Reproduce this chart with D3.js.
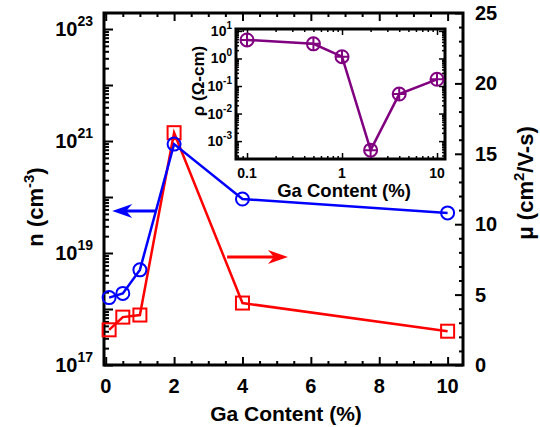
<!DOCTYPE html>
<html>
<head>
<meta charset="utf-8">
<script src="https://cdn.jsdelivr.net/npm/d3@7"></script>
<style>
  body { margin: 0; background: #fff; }
  svg text { font-family: "Liberation Sans", Arial, sans-serif; font-weight: bold; fill: #000; }
</style>
</head>
<body>
<svg id="chart" width="540" height="427"></svg>
<script>
// Ga content (%) for every sample
var gaContent = [0.1, 0.5, 1, 2, 4, 10];
// carrier concentration n (cm^-3), left log axis
var carrierConc = [1.6e18, 1.9e18, 5.0e18, 8.8e20, 9.2e19, 5.2e19];
// mobility (cm^2/V-s), right linear axis
var mobility = [2.5, 3.4, 3.55, 16.5, 4.4, 2.4];
// resistivity (ohm-cm), inset
var resistivity = [4.7, 3.4, 1.16, 4.7e-4, 0.051, 0.175];

var xTicks = [0, 2, 4, 6, 8, 10];
var nTickExps = [17, 19, 21, 23];
var muTicks = [0, 5, 10, 15, 20, 25];
var insetXTicks = [0.1, 1, 10];
var insetXLabels = ["0.1", "1", "10"];
var insetYExps = [1, 0, -1, -2, -3];

var svg = d3.select("#chart");

// main frame
var L = 104, R = 463, T = 13, B = 365;
var x = d3.scaleLinear().domain([-0.05, 10.45]).range([L, R]);
var yN = d3.scaleLog().domain([1e17, Math.pow(10, 23.286)]).range([B, T]);
var yMu = d3.scaleLinear().domain([0, 25]).range([B, T]);

function styleAxis(g) {
    g.select(".domain").remove();
    g.selectAll(".tick line").attr("stroke", "#000").attr("stroke-width", 2);
    g.selectAll(".tick text").remove();
}

// minor ticks every 0.5 on x
var xMinor = d3.range(0, 10.5, 0.5).filter(function(v) { return v % 2 !== 0; });
svg.append("g").attr("transform", "translate(0," + B + ")")
    .call(d3.axisBottom(x).tickValues(xTicks).tickSize(-8)).call(styleAxis);
svg.append("g").attr("transform", "translate(0," + B + ")")
    .call(d3.axisBottom(x).tickValues(xMinor).tickSize(-4)).call(styleAxis);
svg.append("g").attr("transform", "translate(0," + T + ")")
    .call(d3.axisTop(x).tickValues(xTicks).tickSize(-8)).call(styleAxis);
svg.append("g").attr("transform", "translate(0," + T + ")")
    .call(d3.axisTop(x).tickValues(xMinor).tickSize(-4)).call(styleAxis);

// left log axis
var nMajor = d3.range(17, 24).map(function(e) { return Math.pow(10, e); });
var nMinor = [];
d3.range(17, 24).forEach(function(e) {
    for (var k = 2; k <= 9; k++) {
        var v = k * Math.pow(10, e);
        if (v < yN.domain()[1]) nMinor.push(v);
    }
});
svg.append("g").attr("transform", "translate(" + L + ",0)")
    .call(d3.axisLeft(yN).tickValues(nMajor).tickSize(-9)).call(styleAxis);
svg.append("g").attr("transform", "translate(" + L + ",0)")
    .call(d3.axisLeft(yN).tickValues(nMinor).tickSize(-5)).call(styleAxis);

// right linear axis
var muMinor = d3.range(0, 26, 1).filter(function(v) { return v % 5 !== 0; });
svg.append("g").attr("transform", "translate(" + R + ",0)")
    .call(d3.axisRight(yMu).tickValues(muTicks).tickSize(-8)).call(styleAxis);
svg.append("g").attr("transform", "translate(" + R + ",0)")
    .call(d3.axisRight(yMu).tickValues(muMinor).tickSize(-4)).call(styleAxis);

svg.append("rect")
    .attr("x", L).attr("y", T).attr("width", R - L).attr("height", B - T)
    .attr("fill", "none").attr("stroke", "#000").attr("stroke-width", 3);

// tick labels
svg.selectAll(".xlab").data(xTicks).enter().append("text")
    .attr("x", function(d) { return x(d); }).attr("y", 393)
    .attr("text-anchor", "middle").style("font-size", "20px")
    .text(function(d) { return d; });

var nLab = svg.selectAll(".nlab").data(nTickExps).enter().append("text")
    .attr("x", 93).attr("y", function(d) { return yN(Math.pow(10, d)) + 7; })
    .attr("text-anchor", "end").style("font-size", "20px");
nLab.append("tspan").text("10");
nLab.append("tspan").attr("dy", -10).style("font-size", "14px").text(function(d) { return d; });

svg.selectAll(".mulab").data(muTicks).enter().append("text")
    .attr("x", 475).attr("y", function(d) { return yMu(d) + 7; })
    .style("font-size", "20px")
    .text(function(d) { return d; });

// axis titles
svg.append("text").attr("x", 286).attr("y", 421).attr("text-anchor", "middle")
    .style("font-size", "21px").text("Ga Content (%)");

var nTitle = svg.append("text").attr("transform", "translate(43,207) rotate(-90)")
    .attr("text-anchor", "middle").style("font-size", "22px");
nTitle.append("tspan").text("n (cm");
nTitle.append("tspan").attr("dy", -9).style("font-size", "15px").text("-3");
nTitle.append("tspan").attr("dy", 9).text(")");

var muTitle = svg.append("text").attr("transform", "translate(533,183) rotate(-90)")
    .attr("text-anchor", "middle").style("font-size", "22px");
muTitle.append("tspan").text("\u03bc (cm");
muTitle.append("tspan").attr("dy", -9).style("font-size", "15px").text("2");
muTitle.append("tspan").attr("dy", 9).text("/V-s)");

// data series
var lineMu = d3.line().x(function(d, i) { return x(gaContent[i]); }).y(function(d) { return yMu(d); });
var lineN = d3.line().x(function(d, i) { return x(gaContent[i]); }).y(function(d) { return yN(d); });

svg.append("path").datum(mobility).attr("d", lineMu)
    .attr("fill", "none").attr("stroke", "#ff0000").attr("stroke-width", 2.5);
svg.selectAll(".sq").data(mobility).enter().append("rect")
    .attr("x", function(d, i) { return x(gaContent[i]) - 6.5; })
    .attr("y", function(d) { return yMu(d) - 6.5; })
    .attr("width", 13).attr("height", 13)
    .attr("fill", "none").attr("stroke", "#ff0000").attr("stroke-width", 2);

svg.append("path").datum(carrierConc).attr("d", lineN)
    .attr("fill", "none").attr("stroke", "#0000ff").attr("stroke-width", 2.5);
svg.selectAll(".circ").data(carrierConc).enter().append("circle")
    .attr("cx", function(d, i) { return x(gaContent[i]); })
    .attr("cy", function(d) { return yN(d); })
    .attr("r", 6.5)
    .attr("fill", "none").attr("stroke", "#0000ff").attr("stroke-width", 2);

// arrows pointing to the axis for each series
function arrow(x1, x2, y, color) {
    var dir = x2 > x1 ? 1 : -1;
    svg.append("line").attr("x1", x1).attr("x2", x2 - dir * 6).attr("y1", y).attr("y2", y)
        .attr("stroke", color).attr("stroke-width", 3);
    var p = d3.path();
    p.moveTo(x2, y);
    p.lineTo(x2 - dir * 20, y - 7);
    p.lineTo(x2 - dir * 14, y);
    p.lineTo(x2 - dir * 20, y + 7);
    p.closePath();
    svg.append("path").attr("d", p.toString()).attr("fill", color);
}
arrow(x(1.45), x(0.19), yN(5.6e19), "#0000ff");
arrow(x(3.55), x(5.33), yMu(7.67), "#ff0000");

// inset: resistivity
var iL = 236, iR = 445, iT = 29, iB = 159;
var ix = d3.scaleLog().domain([Math.pow(10, -1.116), Math.pow(10, 1.084)]).range([iL, iR]);
var iy = d3.scaleLog().domain([Math.pow(10, -3.65), Math.pow(10, 1.07)]).range([iB, iT]);

svg.append("rect").attr("x", iL).attr("y", iT).attr("width", iR - iL).attr("height", iB - iT)
    .attr("fill", "#fff");

var ixMinor = [];
[-2, -1, 0, 1].forEach(function(e) {
    for (var k = 2; k <= 9; k++) {
        var v = k * Math.pow(10, e);
        if (v > ix.domain()[0] && v < ix.domain()[1]) ixMinor.push(v);
    }
});
var iyMajor = insetYExps.map(function(e) { return Math.pow(10, e); });
var iyMinor = [];
[-4, -3, -2, -1, 0, 1].forEach(function(e) {
    for (var k = 2; k <= 9; k++) {
        var v = k * Math.pow(10, e);
        if (v > iy.domain()[0] && v < iy.domain()[1]) iyMinor.push(v);
    }
});
var insetAxes = svg.append("g");
insetAxes.append("g").attr("transform", "translate(0," + iB + ")")
    .call(d3.axisBottom(ix).tickValues(insetXTicks).tickSize(-6)).call(styleAxis);
insetAxes.append("g").attr("transform", "translate(0," + iB + ")")
    .call(d3.axisBottom(ix).tickValues(ixMinor).tickSize(-3)).call(styleAxis);
insetAxes.append("g").attr("transform", "translate(0," + iT + ")")
    .call(d3.axisTop(ix).tickValues(insetXTicks).tickSize(-6)).call(styleAxis);
insetAxes.append("g").attr("transform", "translate(0," + iT + ")")
    .call(d3.axisTop(ix).tickValues(ixMinor).tickSize(-3)).call(styleAxis);
insetAxes.append("g").attr("transform", "translate(" + iL + ",0)")
    .call(d3.axisLeft(iy).tickValues(iyMajor).tickSize(-6)).call(styleAxis);
insetAxes.append("g").attr("transform", "translate(" + iL + ",0)")
    .call(d3.axisLeft(iy).tickValues(iyMinor).tickSize(-3)).call(styleAxis);
insetAxes.append("g").attr("transform", "translate(" + iR + ",0)")
    .call(d3.axisRight(iy).tickValues(iyMajor).tickSize(-6)).call(styleAxis);
insetAxes.append("g").attr("transform", "translate(" + iR + ",0)")
    .call(d3.axisRight(iy).tickValues(iyMinor).tickSize(-3)).call(styleAxis);
insetAxes.selectAll(".tick line").attr("stroke-width", 1.5);

svg.append("rect").attr("x", iL).attr("y", iT).attr("width", iR - iL).attr("height", iB - iT)
    .attr("fill", "none").attr("stroke", "#000").attr("stroke-width", 3);

svg.selectAll(".ixlab").data(insetXTicks).enter().append("text")
    .attr("x", function(d) { return ix(d); }).attr("y", 178)
    .attr("text-anchor", "middle").style("font-size", "14px")
    .text(function(d, i) { return insetXLabels[i]; });

var iyLab = svg.selectAll(".iylab").data(insetYExps).enter().append("text")
    .attr("x", 232).attr("y", function(d) { return iy(Math.pow(10, d)) + 5; })
    .attr("text-anchor", "end").style("font-size", "14px");
iyLab.append("tspan").text("10");
iyLab.append("tspan").attr("dy", -7).style("font-size", "10px").text(function(d) { return d; });

svg.append("text").attr("x", 344).attr("y", 197).attr("text-anchor", "middle")
    .style("font-size", "18.5px").text("Ga Content (%)");
svg.append("text").attr("transform", "translate(204,81) rotate(-90)")
    .attr("text-anchor", "middle").style("font-size", "17px").text("\u03c1 (\u03a9-cm)");

var lineRho = d3.line().x(function(d, i) { return ix(gaContent[i]); }).y(function(d) { return iy(d); });
svg.append("path").datum(resistivity).attr("d", lineRho)
    .attr("fill", "none").attr("stroke", "#800080").attr("stroke-width", 2.5);
var rhoPts = svg.selectAll(".rho").data(resistivity).enter().append("g")
    .attr("transform", function(d, i) { return "translate(" + ix(gaContent[i]) + "," + iy(d) + ")"; });
rhoPts.append("circle").attr("r", 6.5).attr("fill", "none").attr("stroke", "#800080").attr("stroke-width", 2);
rhoPts.append("path").attr("d", "M-6.5,0H6.5M0,-6.5V6.5").attr("stroke", "#800080").attr("stroke-width", 2);
</script>
</body>
</html>
